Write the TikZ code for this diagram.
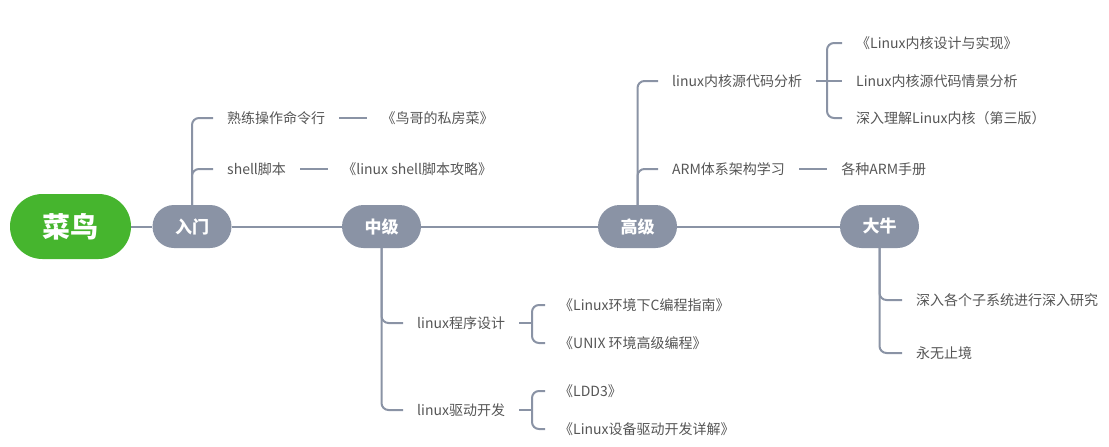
\documentclass[tikz,border=0pt]{standalone}
\usepackage{fontspec}
\setmainfont{Noto Sans CJK SC}
\usepackage{tikz}
\usetikzlibrary{positioning}
\definecolor{rootgreen}{RGB}{70,181,46}
\definecolor{stepgray}{RGB}{138,147,165}
\definecolor{leafgray}{RGB}{85,85,85}

\begin{document}
\begin{tikzpicture}[x=1pt, y=-1pt,
  rootbox/.style={fill=rootgreen, text=white, font=\fontsize{28}{28}\selectfont\bfseries, minimum width=121pt, minimum height=65pt, rounded corners=32.5pt, inner sep=0pt},
  stagebox/.style={fill=stepgray, text=white, font=\fontsize{17}{17}\selectfont\bfseries, minimum width=79pt, minimum height=43pt, rounded corners=21.5pt, inner sep=0pt},
  leaf/.style={anchor=west, text=leafgray, font=\fontsize{14}{14}\selectfont, inner xsep=14pt, inner ysep=0pt},
  link/.style={draw=stepgray, line width=2pt, rounded corners=7pt}]
\useasboundingbox (0,0) rectangle (1109,447);
% stages
\node[rootbox] (G0N0) at (70.5,226.5) {菜鸟};
\node[stagebox] (G1N0) at (192,226.5) {入门};
\node[stagebox] (G2N0) at (381.5,226.5) {中级};
\node[stagebox] (G3N0) at (637.5,226.5) {高级};
\node[stagebox] (G4N0) at (879.5,226.5) {大牛};
\draw[link] (G0N0) -- (G1N0) -- (G2N0) -- (G3N0) -- (G4N0);
% 入门
\node[leaf] (G1N1) at (213,118) {熟练操作命令行};
\node[leaf, right=28pt of G1N1] (G1N2) {《鸟哥的私房菜》};
\node[leaf] (G1N3) at (213,169) {shell脚本};
\node[leaf, right=28pt of G1N3] (G1N4) {《linux shell脚本攻略》};
\draw[link] (G1N0.north) |- (G1N1.west);
\draw[link] (G1N0.north) |- (G1N3.west);
\draw[link] (G1N1) -- (G1N2);
\draw[link] (G1N3) -- (G1N4);
% 中级
\node[leaf] (G2N1) at (403,323) {linux程序设计};
\node[leaf] (G2N2) at (545,305) {《Linux环境下C编程指南》};
\node[leaf] (G2N3) at (545,343) {《UNIX 环境高级编程》};
\node[leaf] (G2N4) at (403,410) {linux驱动开发};
\node[leaf] (G2N5) at (545,391) {《LDD3》};
\node[leaf] (G2N6) at (545,429) {《Linux设备驱动开发详解》};
\coordinate (G2B1) at (532,323);
\coordinate (G2B2) at (532,410);
\draw[link] (G2N0.south) |- (G2N1.west);
\draw[link] (G2N0.south) |- (G2N4.west);
\draw[link] (G2N1.east) -- (G2B1);
\draw[link] (G2N2.west) -| (G2B1) |- (G2N3.west);
\draw[link] (G2N4.east) -- (G2B2);
\draw[link] (G2N5.west) -| (G2B2) |- (G2N6.west);
% 高级
\node[leaf] (G3N1) at (658,81) {linux内核源代码分析};
\node[leaf] (G3N2) at (842,43) {《Linux内核设计与实现》};
\node[leaf] (G3N3) at (842,81) {Linux内核源代码情景分析};
\node[leaf] (G3N4) at (842,118) {深入理解Linux内核（第三版）};
\node[leaf] (G3N5) at (658,169) {ARM体系架构学习};
\node[leaf, right=28pt of G3N5] (G3N6) {各种ARM手册};
\coordinate (G3B1) at (827,81);
\draw[link] (G3N0.north) |- (G3N1.west);
\draw[link] (G3N0.north) |- (G3N5.west);
\draw[link] (G3N1.east) -- (G3N3.west);
\draw[link] (G3N2.west) -| (G3B1) |- (G3N4.west);
\draw[link] (G3N5) -- (G3N6);
% 大牛
\node[leaf] (G4N1) at (902,300) {深入各个子系统进行深入研究};
\node[leaf] (G4N2) at (902,353) {永无止境};
\draw[link] (G4N0.south) |- (G4N1.west);
\draw[link] (G4N0.south) |- (G4N2.west);
\end{tikzpicture}
\end{document}
